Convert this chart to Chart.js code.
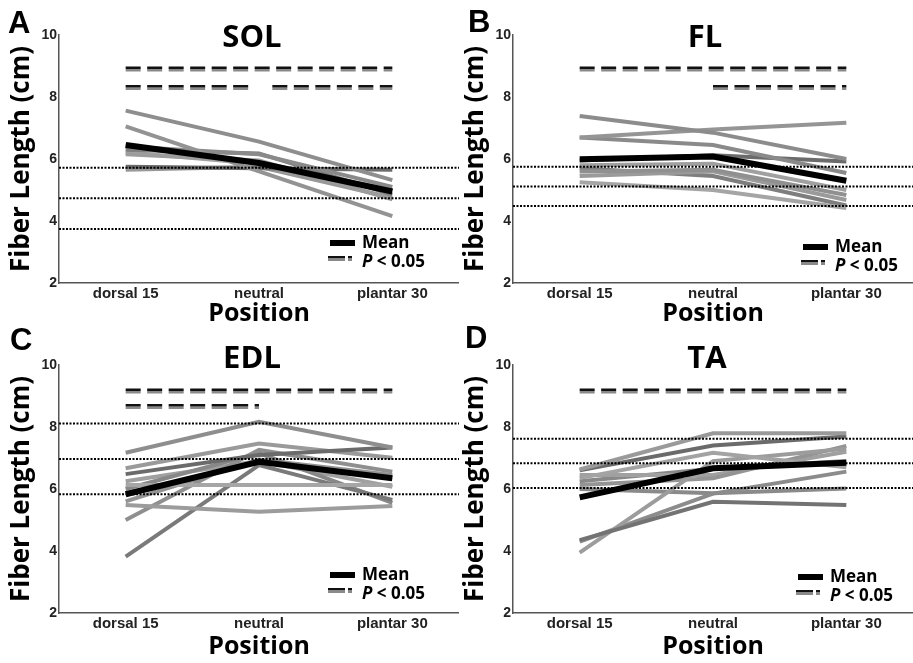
<!DOCTYPE html>
<html>
<head>
<meta charset="utf-8">
<script src="https://cdn.jsdelivr.net/npm/chart.js@4.4.0/dist/chart.umd.min.js"></script>
<style>
  body { margin: 0; background: #fff; width: 913px; height: 663px; overflow: hidden; position: relative; }
  .panel { position: absolute; }
</style>
</head>
<body>
<div class="panel" style="left:0;top:0;width:459px;height:330px"><canvas id="chartA"></canvas></div>
<div class="panel" style="left:454px;top:0;width:459px;height:330px"><canvas id="chartB"></canvas></div>
<div class="panel" style="left:0;top:320px;width:459px;height:343px"><canvas id="chartC"></canvas></div>
<div class="panel" style="left:454px;top:320px;width:459px;height:343px"><canvas id="chartD"></canvas></div>
<script>
const positions = ['dorsal 15', 'neutral', 'plantar 30'];

// SOL
const solSubjects = [
    [7.56, 6.56, 5.32],
    [7.05, 5.60, 4.16],
    [6.40, 6.15, 5.10],
    [6.30, 6.18, 4.85],
    [6.15, 5.95, 4.70],
    [6.22, 5.85, 5.00],
    [5.75, 5.70, 5.65],
    [5.65, 5.75, 4.75]
];
const solMean = [6.45, 5.87, 4.95];
const solRefLines = [5.72, 4.73, 3.74];
const solSigBars = [[8.94, 0, 2], [8.35, 0, 0.92], [8.35, 1.1, 2]]; // [y, from, to]

// FL
const flSubjects = [
    [7.39, 6.85, 6.00],
    [6.69, 6.95, 7.17],
    [6.69, 6.45, 5.55],
    [5.95, 6.12, 5.92],
    [5.80, 5.85, 5.00],
    [5.60, 5.65, 4.84],
    [5.45, 5.60, 4.68],
    [5.25, 5.00, 4.42],
    [5.70, 5.45, 4.50]
];
const flMean = [5.99, 6.08, 5.30];
const flRefLines = [5.75, 5.11, 4.48];
const flSigBars = [[8.94, 0, 2], [8.35, 1, 2]];

// EDL
const edlSubjects = [
    [7.17, 8.17, 7.34],
    [6.48, 7.10, 7.34],
    [6.67, 7.47, 7.01],
    [6.13, 6.13, 6.13],
    [5.48, 5.27, 5.45],
    [3.82, 6.77, 5.65],
    [5.00, 7.26, 6.56],
    [6.00, 7.16, 5.55],
    [6.25, 6.90, 6.07],
    [5.60, 6.95, 6.45]
];
const edlMean = [5.83, 6.88, 6.35];
const edlRefLines = [8.11, 6.97, 5.83];
const edlSigBars = [[9.2, 0, 2], [8.7, 0, 1]];

// TA
const taSubjects = [
    [6.63, 7.80, 7.80],
    [6.60, 7.40, 7.69],
    [6.35, 7.17, 6.70],
    [4.35, 5.59, 5.48],
    [3.95, 6.90, 7.30],
    [4.30, 5.85, 6.56],
    [6.13, 6.35, 7.39],
    [6.00, 5.86, 6.02],
    [6.45, 6.45, 7.20],
    [6.25, 6.65, 6.90]
];
const taMean = [5.73, 6.67, 6.85];
const taRefLines = [7.62, 6.83, 6.03];
const taSigBars = [[9.2, 0, 2]];

// grey shade of each subject line
const solShades = ['#8e8e8e', '#939393', '#8a8a8a', '#7f7f7f', '#9c9c9c', '#a4a4a4', '#6b6b6b', '#989898'];
const flShades = ['#8c8c8c', '#959595', '#8a8a8a', '#6b6b6b', '#a0a0a0', '#909090', '#9a9a9a', '#a5a5a5', '#7e7e7e'];
const edlShades = ['#8e8e8e', '#6b6b6b', '#9a9a9a', '#a6a6a6', '#9c9c9c', '#7a7a7a', '#8f8f8f', '#888888', '#a0a0a0', '#939393'];
const taShades = ['#9a9a9a', '#6b6b6b', '#a3a3a3', '#737373', '#9c9c9c', '#8c8c8c', '#949494', '#8a8a8a', '#a0a0a0', '#888888'];

const SANS = '"Liberation Sans", Arial, sans-serif';
const OPEN = '"Open Sans", sans-serif';

// panel letter, title and the little legend
const panelDecor = {
    id: 'panelDecor',
    afterDraw(chart, args, o) {
        const ctx = chart.ctx;
        ctx.save();
        ctx.fillStyle = '#000';
        ctx.textBaseline = 'alphabetic';
        ctx.font = 'bold 31px ' + SANS;
        ctx.fillText(o.letter, o.letterX, o.letterY);

        ctx.textAlign = 'center';
        ctx.font = 'bold 31px ' + OPEN;
        ctx.fillText(o.title, o.titleX, o.titleY);

        // legend
        const x0 = o.legX, y1 = o.legY, y2 = o.legY + 19;
        ctx.fillRect(x0, y1 - 3, 25, 6);
        ctx.fillStyle = '#111';
        ctx.fillRect(x0 - 2, y2 - 6, 17, 2.5);
        ctx.fillRect(x0 + 18, y2 - 6, 4, 2.5);
        ctx.fillStyle = '#8a8a8a';
        ctx.fillRect(x0 - 2, y2 - 3.5, 17, 2.5);
        ctx.fillRect(x0 + 18, y2 - 3.5, 4, 2.5);

        ctx.fillStyle = '#000';
        ctx.textAlign = 'left';
        ctx.textBaseline = 'middle';
        ctx.font = 'bold 17px ' + OPEN;
        ctx.fillText('Mean', x0 + 32, y1);
        ctx.font = 'italic bold 17px ' + OPEN;
        ctx.fillText('P', x0 + 32, y2);
        const pw = ctx.measureText('P').width;
        ctx.font = 'bold 17px ' + OPEN;
        ctx.fillText(' < 0.05', x0 + 32 + pw, y2);
        ctx.restore();
    }
};

function makePanel(canvasId, p) {
    const datasets = [];
    p.refLines.forEach(v => datasets.push({
        data: [{x: -0.5, y: v}, {x: 2.5, y: v}],
        borderColor: '#000', borderWidth: 2, borderDash: [2, 1.5]
    }));
    p.sigBars.forEach(([y, from, to]) => {
        datasets.push({
            data: [{x: from, y: y}, {x: to, y: y}],
            borderColor: '#111', borderWidth: 2.5, borderDash: [15, 6.5]
        });
        datasets.push({
            data: [{x: from, y: y - 0.08}, {x: to, y: y - 0.08}],
            borderColor: '#8a8a8a', borderWidth: 2.5, borderDash: [15, 6.5]
        });
    });
    datasets.push({
        data: p.mean.map((v, i) => ({x: i, y: v})),
        borderColor: '#000', borderWidth: 6
    });
    p.subjects.forEach((s, k) => datasets.push({
        data: s.map((v, i) => ({x: i, y: v})),
        borderColor: p.shades[k], borderWidth: 4
    }));

    return new Chart(document.getElementById(canvasId), {
        type: 'line',
        data: { datasets: datasets },
        options: {
            responsive: true,
            maintainAspectRatio: false,
            animation: false,
            layout: { padding: { top: p.padTop, left: 0, right: 0, bottom: 0 } },
            elements: { point: { radius: 0 }, line: { tension: 0, fill: false } },
            plugins: {
                legend: { display: false },
                tooltip: { enabled: false },
                panelDecor: p.decor
            },
            scales: {
                x: {
                    type: 'linear',
                    min: -0.5,
                    max: 2.5,
                    afterBuildTicks: s => { s.ticks = positions.map((_, i) => ({value: i})); },
                    afterFit: s => { s.height = p.xHeight; },
                    ticks: {
                        callback: v => positions[v],
                        color: '#222',
                        font: { family: SANS, size: 15, weight: 'bold' },
                        padding: 2,
                        maxRotation: 0,
                        autoSkip: false
                    },
                    grid: { display: false, drawTicks: false },
                    border: { display: true, color: '#555', width: 1.5 },
                    title: {
                        display: true, text: 'Position', color: '#000',
                        font: { family: OPEN, size: 25, weight: 'bold' },
                        padding: { top: 0, bottom: 1 }
                    }
                },
                y: {
                    min: 2,
                    max: 10,
                    afterFit: s => { s.width = 59; },
                    ticks: {
                        stepSize: 2,
                        color: '#222',
                        font: { family: SANS, size: 14, weight: 'bold' },
                        padding: 2
                    },
                    grid: { display: false, drawTicks: false },
                    border: { display: true, color: '#555', width: 1.5 },
                    title: {
                        display: true, text: 'Fiber Length (cm)', color: '#000',
                        font: { family: OPEN, size: 26, weight: 'bold' },
                        padding: { top: 6, bottom: 0 }
                    }
                }
            }
        },
        plugins: [panelDecor]
    });
}

makePanel('chartA', {
    subjects: solSubjects, mean: solMean, refLines: solRefLines, sigBars: solSigBars, shades: solShades,
    padTop: 35, xHeight: 47,
    decor: { letter: 'A', letterX: 8, letterY: 33, title: 'SOL', titleX: 252, titleY: 47, legX: 330, legY: 243 }
});
makePanel('chartB', {
    subjects: flSubjects, mean: flMean, refLines: flRefLines, sigBars: flSigBars, shades: flShades,
    padTop: 35, xHeight: 47,
    decor: { letter: 'B', letterX: 14, letterY: 32, title: 'FL', titleX: 251, titleY: 47, legX: 349, legY: 247 }
});
makePanel('chartC', {
    subjects: edlSubjects, mean: edlMean, refLines: edlRefLines, sigBars: edlSigBars, shades: edlShades,
    padTop: 45, xHeight: 50,
    decor: { letter: 'C', letterX: 10, letterY: 30, title: 'EDL', titleX: 252, titleY: 48, legX: 330, legY: 255 }
});
makePanel('chartD', {
    subjects: taSubjects, mean: taMean, refLines: taRefLines, sigBars: taSigBars, shades: taShades,
    padTop: 45, xHeight: 50,
    decor: { letter: 'D', letterX: 11, letterY: 28, title: 'TA', titleX: 253, titleY: 48, legX: 344, legY: 257 }
});
</script>
</body>
</html>
